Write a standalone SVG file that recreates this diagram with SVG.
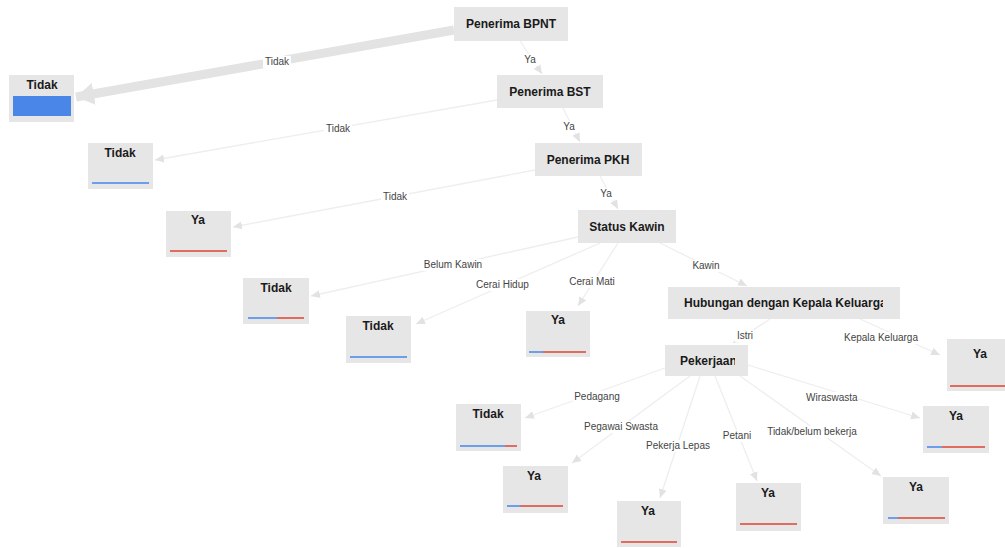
<svg xmlns="http://www.w3.org/2000/svg" width="1005" height="548" viewBox="0 0 1005 548">
  <style>
    .box { fill: #e6e6e6; }
    .title { font-family: "Liberation Sans", Arial, sans-serif; font-size: 12px; font-weight: bold; fill: #1a1a1a; text-anchor: middle; }
    .lbl { font-family: "Liberation Sans", Arial, sans-serif; font-size: 10px; fill: #444; text-anchor: middle; }
    .lblbg { fill: #ffffff; }
    .edge { stroke: #eeeeee; stroke-width: 1.3; fill: none; marker-end: url(#arr); }
    .edge-thick { stroke: #e3e3e3; stroke-width: 9; fill: none; marker-end: url(#arrBig); }
    .blue { stroke: #6d9eeb; stroke-width: 2; }
    .red { stroke: #e06b5f; stroke-width: 2; }
  </style>
  <defs>
    <marker id="arr" markerUnits="userSpaceOnUse" markerWidth="10" markerHeight="10" refX="9" refY="5" orient="auto">
      <path d="M0,1 L9,5 L0,9 Z" fill="#e2e2e2"/>
    </marker>
    <marker id="arrBig" markerUnits="userSpaceOnUse" markerWidth="20" markerHeight="22" refX="18" refY="11" orient="auto">
      <path d="M0,0 L18,11 L0,22 Z" fill="#e3e3e3"/>
    </marker>
    <clipPath id="clipHub"><rect x="668" y="287" width="215" height="32"/></clipPath>
    <clipPath id="clipPek"><rect x="665" y="345" width="70" height="31"/></clipPath>
    <clipPath id="clipCH"><rect x="470" y="276" width="60" height="16"/></clipPath>
    <clipPath id="clipWira"><rect x="800" y="390" width="58" height="16"/></clipPath>
  </defs>

  <!-- connectors -->
  <g id="connectors">
    <line class="edge-thick" x1="454" y1="30" x2="76" y2="97"/>
    <line class="edge" x1="520" y1="41" x2="542" y2="74"/>
    <line class="edge" x1="497" y1="100" x2="155" y2="160"/>
    <line class="edge" x1="563" y1="108" x2="580" y2="142"/>
    <line class="edge" x1="535" y1="170" x2="233" y2="227"/>
    <line class="edge" x1="600" y1="176" x2="618" y2="209"/>
    <line class="edge" x1="578" y1="237" x2="311" y2="296"/>
    <line class="edge" x1="600" y1="243" x2="416" y2="324"/>
    <line class="edge" x1="618" y1="243" x2="578" y2="306"/>
    <line class="edge" x1="660" y1="243" x2="747" y2="286"/>
    <line class="edge" x1="770" y1="319" x2="733" y2="343"/>
    <line class="edge" x1="860" y1="319" x2="940" y2="355"/>
    <line class="edge" x1="665" y1="368" x2="525" y2="418"/>
    <line class="edge" x1="690" y1="376" x2="572" y2="463"/>
    <line class="edge" x1="700" y1="376" x2="660" y2="498"/>
    <line class="edge" x1="715" y1="376" x2="757" y2="481"/>
    <line class="edge" x1="740" y1="376" x2="881" y2="476"/>
    <line class="edge" x1="748" y1="365" x2="920" y2="418"/>

    <!-- edge labels -->
    <rect class="lblbg" x="263" y="56" width="28" height="12"/>
    <text class="lbl" x="277" y="65">Tidak</text>
    <rect class="lblbg" x="522" y="54" width="16" height="12"/>
    <text class="lbl" x="530" y="63">Ya</text>
    <rect class="lblbg" x="324" y="123" width="28" height="12"/>
    <text class="lbl" x="338" y="132">Tidak</text>
    <rect class="lblbg" x="561" y="121" width="16" height="12"/>
    <text class="lbl" x="569" y="130">Ya</text>
    <rect class="lblbg" x="381" y="191" width="28" height="12"/>
    <text class="lbl" x="395" y="200">Tidak</text>
    <rect class="lblbg" x="598" y="188" width="16" height="12"/>
    <text class="lbl" x="606" y="197">Ya</text>
    <rect class="lblbg" x="423" y="259" width="60" height="12"/>
    <text class="lbl" x="453" y="268">Belum Kawin</text>
    <rect class="lblbg" x="474" y="279" width="56" height="12"/>
    <text class="lbl" x="476" y="288" clip-path="url(#clipCH)" style="text-anchor:start">Cerai Hidup</text>
    <rect class="lblbg" x="569" y="276" width="46" height="12"/>
    <text class="lbl" x="592" y="285">Cerai Mati</text>
    <rect class="lblbg" x="691" y="260" width="30" height="12"/>
    <text class="lbl" x="706" y="269">Kawin</text>
    <rect class="lblbg" x="735" y="330" width="20" height="12"/>
    <text class="lbl" x="745" y="339">Istri</text>
    <rect class="lblbg" x="842" y="332" width="78" height="12"/>
    <text class="lbl" x="881" y="341">Kepala Keluarga</text>
    <rect class="lblbg" x="573" y="391" width="48" height="12"/>
    <text class="lbl" x="597" y="400">Pedagang</text>
    <rect class="lblbg" x="583" y="421" width="76" height="12"/>
    <text class="lbl" x="621" y="430">Pegawai Swasta</text>
    <rect class="lblbg" x="645" y="440" width="66" height="12"/>
    <text class="lbl" x="678" y="449">Pekerja Lepas</text>
    <rect class="lblbg" x="722" y="430" width="30" height="12"/>
    <text class="lbl" x="737" y="439">Petani</text>
    <rect class="lblbg" x="765" y="426" width="94" height="12"/>
    <text class="lbl" x="812" y="435">Tidak/belum bekerja</text>
    <rect class="lblbg" x="804" y="392" width="54" height="12"/>
    <text class="lbl" x="806" y="401" clip-path="url(#clipWira)" style="text-anchor:start">Wiraswasta</text>
  </g>

  <!-- split nodes -->
  <g id="n-bpnt">
    <rect class="box" x="454" y="7" width="114" height="34"/>
    <text class="title" x="511" y="28">Penerima BPNT</text>
  </g>
  <g id="n-bst">
    <rect class="box" x="497" y="75" width="106" height="33"/>
    <text class="title" x="550" y="96">Penerima BST</text>
  </g>
  <g id="n-pkh">
    <rect class="box" x="535" y="143" width="107" height="33"/>
    <text class="title" x="588" y="164">Penerima PKH</text>
  </g>
  <g id="n-status">
    <rect class="box" x="578" y="210" width="98" height="33"/>
    <text class="title" x="627" y="231">Status Kawin</text>
  </g>
  <g id="n-hub">
    <rect class="box" x="668" y="287" width="232" height="32"/>
    <text class="title" x="684" y="307" clip-path="url(#clipHub)" style="text-anchor:start">Hubungan dengan Kepala Keluarga</text>
  </g>
  <g id="n-pek">
    <rect class="box" x="665" y="345" width="83" height="31"/>
    <text class="title" x="680" y="365" clip-path="url(#clipPek)" style="text-anchor:start">Pekerjaan</text>
  </g>

  <!-- leaf nodes -->
  <g id="leaf-1">
    <rect class="box" x="9" y="75" width="65" height="47"/>
    <text class="title" x="42" y="89">Tidak</text>
    <rect x="13" y="96" width="58" height="20" fill="#4a86e8"/>
  </g>
  <g id="leaf-2">
    <rect class="box" x="88" y="143" width="65" height="46"/>
    <text class="title" x="120" y="157">Tidak</text>
    <line class="blue" x1="92" y1="183" x2="149" y2="183"/>
  </g>
  <g id="leaf-3">
    <rect class="box" x="166" y="211" width="65" height="46"/>
    <text class="title" x="198" y="224">Ya</text>
    <line class="red" x1="170" y1="251" x2="227" y2="251"/>
  </g>
  <g id="leaf-4">
    <rect class="box" x="243" y="278" width="66" height="46"/>
    <text class="title" x="276" y="292">Tidak</text>
    <line class="blue" x1="248" y1="318" x2="277" y2="318"/>
    <line class="red" x1="277" y1="318" x2="304" y2="318"/>
  </g>
  <g id="leaf-5">
    <rect class="box" x="346" y="316" width="65" height="47"/>
    <text class="title" x="378" y="330">Tidak</text>
    <line class="blue" x1="350" y1="357" x2="407" y2="357"/>
  </g>
  <g id="leaf-6">
    <rect class="box" x="526" y="311" width="64" height="46"/>
    <text class="title" x="558" y="324">Ya</text>
    <line class="blue" x1="529" y1="352" x2="543" y2="352"/>
    <line class="red" x1="543" y1="352" x2="586" y2="352"/>
  </g>
  <g id="leaf-7">
    <rect class="box" x="947" y="339" width="58" height="52"/>
    <text class="title" x="980" y="358">Ya</text>
    <line class="red" x1="950" y1="386" x2="1005" y2="386"/>
  </g>
  <g id="leaf-8">
    <rect class="box" x="456" y="404" width="65" height="47"/>
    <text class="title" x="488" y="418">Tidak</text>
    <line class="blue" x1="460" y1="446" x2="505" y2="446"/>
    <line class="red" x1="505" y1="446" x2="517" y2="446"/>
  </g>
  <g id="leaf-9">
    <rect class="box" x="503" y="466" width="65" height="47"/>
    <text class="title" x="534" y="480">Ya</text>
    <line class="blue" x1="507" y1="506" x2="520" y2="506"/>
    <line class="red" x1="520" y1="506" x2="563" y2="506"/>
  </g>
  <g id="leaf-10">
    <rect class="box" x="617" y="501" width="64" height="46"/>
    <text class="title" x="648" y="515">Ya</text>
    <line class="red" x1="621" y1="542" x2="677" y2="542"/>
  </g>
  <g id="leaf-11">
    <rect class="box" x="736" y="483" width="65" height="48"/>
    <text class="title" x="768" y="497">Ya</text>
    <line class="red" x1="740" y1="524" x2="797" y2="524"/>
  </g>
  <g id="leaf-12">
    <rect class="box" x="883" y="477" width="66" height="47"/>
    <text class="title" x="916" y="491">Ya</text>
    <line class="blue" x1="888" y1="518" x2="898" y2="518"/>
    <line class="red" x1="898" y1="518" x2="945" y2="518"/>
  </g>
  <g id="leaf-13">
    <rect class="box" x="923" y="406" width="66" height="47"/>
    <text class="title" x="956" y="420">Ya</text>
    <line class="blue" x1="927" y1="447" x2="942" y2="447"/>
    <line class="red" x1="942" y1="447" x2="985" y2="447"/>
  </g>
</svg>
